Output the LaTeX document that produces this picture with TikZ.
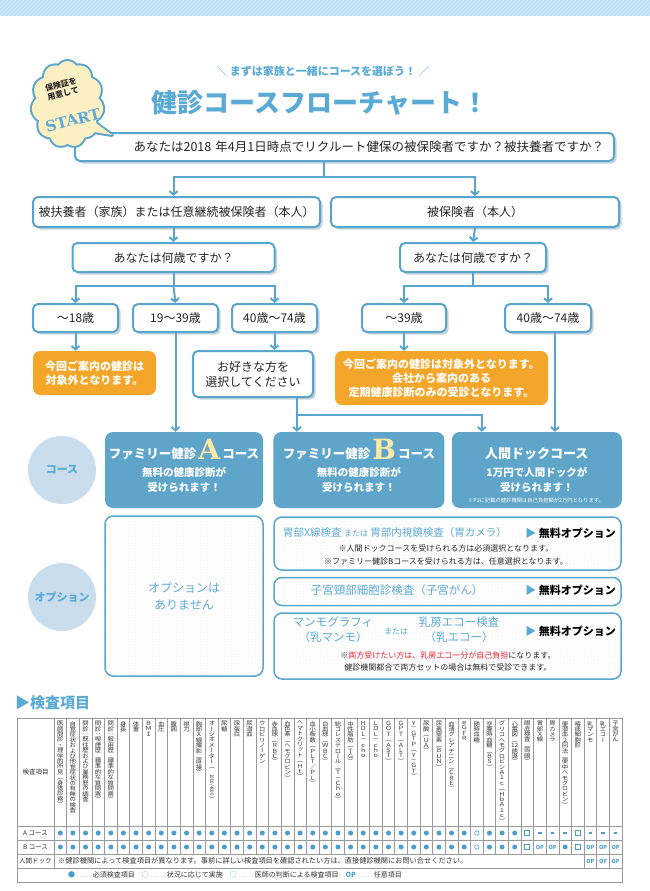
\documentclass[tikz,border=0pt]{standalone}
\usepackage{fontspec}
\setmainfont{Noto Sans CJK JP}
\newfontfamily\tatefont[RawFeature=+vert]{Noto Sans CJK JP}
\newfontfamily\serifbig{DejaVu Serif}
\usepackage{xcolor}
\usepackage{tikz}
\usetikzlibrary{shapes.symbols, arrows.meta, positioning, shadows, patterns}

\definecolor{lineblue}{HTML}{5AA5CE}
\definecolor{courseblue}{HTML}{5FA5CA}
\definecolor{circblue}{HTML}{C9DDEC}
\definecolor{ngorange}{HTML}{F4A62A}
\definecolor{titleblue}{HTML}{5BAAD6}
\definecolor{aletter}{HTML}{FDE9A5}
\definecolor{cloudfill}{HTML}{FCEFC2}
\definecolor{stripe}{HTML}{BCDEF3}
\definecolor{shadowc}{HTML}{C5D3DC}
\definecolor{markblue}{HTML}{4C9DCB}
\definecolor{redtxt}{HTML}{E8202F}
\definecolor{gridgray}{HTML}{9A9A9A}

\tikzstyle{qbox} = [rectangle, rounded corners=5pt, draw=lineblue, line width=2pt, fill=white, drop shadow={shadow xshift=2.5pt, shadow yshift=-2.5pt, fill=shadowc, opacity=1}, inner sep=0pt, align=center, text=black!85, font=\fontsize{12}{15}\selectfont]
\tikzstyle{agebox} = [qbox, minimum width=85pt, minimum height=28pt]
\tikzstyle{ngbox} = [rectangle, rounded corners=7pt, fill=ngorange, text=white, inner sep=0pt, align=center, font=\bfseries\fontsize{11}{14}\selectfont]
\tikzstyle{course} = [rectangle, rounded corners=8pt, fill=courseblue, text=white, inner sep=0pt, align=center, minimum height=76pt, font=\bfseries\fontsize{10.5}{15}\selectfont]
\tikzstyle{tag} = [circle, fill=circblue, minimum size=68pt, inner sep=0pt, text=titleblue, font=\bfseries\fontsize{11}{13}\selectfont]
\tikzstyle{optbox} = [rectangle, rounded corners=8pt, draw=lineblue, line width=1.5pt, pattern=dots, pattern color=black!12, inner sep=0pt, minimum width=347pt]
\tikzstyle{arrow} = [-{Straight Barb[length=3.5pt, width=8pt]}, line width=2pt, draw=lineblue]
\tikzstyle{link} = [line width=2pt, draw=lineblue]
\tikzstyle{optitem} = [inner sep=0pt, text=titleblue, font=\fontsize{11.5}{15}\selectfont, align=center]
\tikzstyle{freeopt} = [anchor=east, inner sep=0pt, text=black, font=\bfseries\fontsize{11}{13}\selectfont]
\tikzstyle{optnote} = [inner sep=0pt, text=black!85, font=\fontsize{8}{12}\selectfont, align=center]
\tikzstyle{grid} = [draw=gridgray, line width=0.6pt]
\tikzstyle{colhead} = [anchor=north, inner sep=0pt, text=black!80, font=\tatefont\fontsize{6.4}{6}\selectfont]
\tikzstyle{rowhead} = [inner sep=0pt, text=black!80, font=\fontsize{6.5}{8}\selectfont]
\tikzstyle{dotmark} = [circle, fill=markblue, inner sep=0pt, minimum size=5pt]
\tikzstyle{ringmark} = [circle, draw=markblue, line width=0.6pt, inner sep=0pt, minimum size=4.5pt]
\tikzstyle{boxmark} = [rectangle, draw=markblue, line width=1.2pt, inner sep=0pt, minimum size=5pt]
\tikzstyle{dashmark} = [rectangle, fill=markblue, inner sep=0pt, minimum width=3.5pt, minimum height=1.2pt]
\tikzstyle{opmark} = [inner sep=0pt, text=markblue, font=\bfseries\fontsize{5.5}{6}\selectfont]
\tikzstyle{startcl} = [cloud, cloud puffs=11, cloud puff arc=115, cloud ignores aspect, minimum width=72pt, minimum height=86pt, inner sep=0pt]

\newcommand\bigletter[1]{\smash{\raisebox{-1pt}{\serifbig\bfseries\fontsize{28}{28}\selectfont\color{aletter}#1}}}

\ExplSyntaxOn
\NewDocumentCommand \tate { m }
  {
    \scalebox{1}[0.9]{
      \vtop{
        \baselineskip = 6pt \lineskiplimit = -\c_max_dim
        \tl_map_inline:nn {#1} { \hbox_to_wd:nn {10pt} { \hss ##1 \hss } }
      }
    }
  }
\ExplSyntaxOff

\begin{document}
\begin{tikzpicture}[x=1pt, y=-1pt]
    \useasboundingbox (0,0) rectangle (650,891);

    % === top band ===
    \begin{scope}
        \clip (0,0) rectangle (650,16);
        \fill[stripe] (0,0) rectangle (650,16);
        \foreach \x in {-20,-16,...,650} \draw[white, opacity=0.3, line width=1.2pt] (\x,16) -- ++(16,-16);
    \end{scope}

    % === headings ===
    \node[text=titleblue, font=\bfseries\fontsize{11}{13}\selectfont] (subtitle) at (323,71) {{\mdseries ＼}\ まずは家族と一緒にコースを選ぼう！\ {\mdseries ／}};
    \node[text=titleblue, font=\bfseries\fontsize{26}{30}\selectfont] (title) at (320,103) {健診コースフローチャート！};

    % === ROW 1: first question ===
    \node[qbox, minimum width=539pt, minimum height=28pt, text width=519pt, align=right, font=\fontsize{12.5}{15}\selectfont] (q1) at (344.5,147) {あなたは2018 年4月1日時点でリクルート健保の被保険者ですか？被扶養者ですか？};

    % === START cloud (over the corner of q1) ===
    \node[startcl, draw=lineblue, line width=4pt] (startcloud) at (67.5,104) {};
    \draw[lineblue, line width=4pt, line join=round] (82,130) -- (112,135) -- (93,121) -- cycle;
    \node[startcl, fill=cloudfill] at (67.5,104) {};
    \fill[cloudfill] (82,130) -- (112,135) -- (93,121) -- cycle;
    \node[rotate=14, font=\bfseries\fontsize{8}{9.5}\selectfont, align=center, text=black!85, inner sep=0pt] (startnote) at (62,89) {保険証を\\用意して};
    \node[rotate=14, font=\serifbig\bfseries\fontsize{15}{15}\selectfont, text=titleblue, inner sep=0pt] (starttxt) at (73,120) {START};

    % === ROW 2: insured or dependant ===
    \node[qbox, minimum width=287pt, minimum height=30pt] (l1) at (176.5,212) {被扶養者（家族）または任意継続被保険者（本人）};
    \node[qbox, minimum width=288pt, minimum height=30pt, right=9pt of l1] (r1) {被保険者（本人）};

    % === ROW 3: age questions ===
    \node[qbox, minimum width=202pt, minimum height=29pt] (q2l) at (173.5,257.5) {あなたは何歳ですか？};
    \node[qbox, minimum width=146pt, minimum height=29pt] (q2r) at (473,257.5) {あなたは何歳ですか？};

    % === ROW 4: age ranges ===
    \node[agebox] (a18) at (75.5,318) {〜18歳};
    \node[agebox, right=13pt of a18] (a19) {19〜39歳};
    \node[agebox, right=12pt of a19] (a40l) {40歳〜74歳};
    \node[agebox, minimum width=84pt] (b39) at (404,318) {〜39歳};
    \node[agebox, minimum width=86pt] (b40) at (548,318) {40歳〜74歳};

    % === ROW 5: results ===
    \node[ngbox, minimum width=123pt, minimum height=44pt] (ng1) at (94.5,373) {今回ご案内の健診は\\対象外となります。};
    \node[qbox, minimum width=120pt, minimum height=46pt] (pick) at (253,374) {お好きな方を\\選択してください};
    \node[ngbox, minimum width=213pt, minimum height=54pt] (ng2) at (441.5,378) {今回ご案内の健診は対象外となります。\\会社から案内のある\\定期健康診断のみの受診となります。};

    % === ROW 6: courses ===
    \node[tag] (tagcourse) at (62,470) {コース};
    \node[course, minimum width=158pt] (cA) at (184,470) {{\fontsize{12.5}{15}\selectfont ファミリー健診\,\bigletter{A}\,コース}\\[3pt]無料の健康診断が\\受けられます！};
    \node[course, minimum width=171pt, right=10pt of cA] (cB) {{\fontsize{12.5}{15}\selectfont ファミリー健診\,\bigletter{B}\,コース}\\[3pt]無料の健康診断が\\受けられます！};
    \node[course, minimum width=170pt, right=7pt of cB] (cD) {{\fontsize{13}{15}\selectfont 人間ドックコース}\\[3pt]1万円で人間ドックが\\受けられます！};
    \node[inner sep=0pt, text=white, font=\fontsize{5.3}{6}\selectfont] (dnote) at (536,500) {※P3に記載の健診機関は自己負担額が2万円となります。};

    % === ROW 7: options ===
    \node[tag] (tagopt) at (62,597) {オプション};
    \node[optbox, minimum width=158pt, minimum height=160pt, text=titleblue, align=center, font=\fontsize{12}{17}\selectfont] (optnone) at (184,596) {オプションは\\ありません};
    \node[optbox, minimum height=53pt] (opt1) at (447.5,543.5) {};
    \node[optbox, minimum height=28pt, below=6pt of opt1] (opt2) {};
    \node[optbox, minimum height=66pt, below=6pt of opt2] (opt3) {};

    \node[optitem, anchor=west, font=\fontsize{10.5}{13}\selectfont] (xray) at (283,533) {胃部X線検査\ {\fontsize{8}{8}\selectfont または}\ 胃部内視鏡検査（胃カメラ）};
    \node[freeopt] (free1) at (616,533) {{\color{titleblue}▶}\ 無料オプション};
    \node[optnote] (note1) at (446,548) {※人間ドックコースを受けられる方は必須選択となります。};
    \node[optnote] (note2) at (446,561) {※ファミリー健診Bコースを受けられる方は、任意選択となります。};

    \node[optitem] (uterus) at (397,590) {子宮頸部細胞診検査（子宮がん）};
    \node[freeopt] (free2) at (616,590) {{\color{titleblue}▶}\ 無料オプション};

    \node[optitem] (mammo) at (333,630) {マンモグラフィ\\（乳マンモ）};
    \node[optitem, font=\fontsize{8}{8}\selectfont] (either) at (396,631) {または};
    \node[optitem] (echo) at (459,630) {乳房エコー検査\\（乳エコー）};
    \node[freeopt] (free3) at (616,631) {{\color{titleblue}▶}\ 無料オプション};
    \node[optnote] (note3) at (448,655) {※{\color{redtxt}両方受けたい方は、乳房エコー分が自己負担}になります。};
    \node[optnote] (note4) at (448,667) {健診機関都合で両方セットの場合は無料で受診できます。};

    % ===== ARROWS =====
    % first question -> insured / dependant
    \coordinate (j1) at (324,177);
    \draw[link] (q1.south -| j1) -- (j1);
    \draw[arrow] (j1) -| (q2l.north |- l1.north);
    \draw[arrow] (j1) -| (r1.north);

    % -> age questions
    \draw[arrow] (q2l.north |- l1.south) -- (q2l.north);
    \draw[arrow] (r1.south) -- (q2r.north);

    % age questions -> age ranges
    \draw[link] (q2l.south) -- ++(0,13) coordinate (j2);
    \draw[arrow] (j2) -| (a18.north);
    \draw[arrow] (j2) -- (a19.north);
    \draw[arrow] (j2) -| (a40l.north);
    \draw[link] (q2r.south) -- ++(0,13) coordinate (j3);
    \draw[arrow] (j3) -| (b39.north);
    \draw[arrow] (j3) -| (b40.north);

    % age ranges -> results
    \draw[arrow] (a18.south) -- (a18.south |- ng1.north);
    \draw[arrow] (a40l.south) -- (a40l.south |- pick.north);
    \draw[arrow] (b39.south) -- (b39.south |- ng2.north);

    % -> courses
    \draw[arrow] (a19.south) -- (a19.south |- cA.north);
    \coordinate (j4) at (297,415);
    \coordinate (cDin) at ([xshift=-55pt]cD.north);
    \draw[link] (pick.south -| j4) -- (j4);
    \draw[arrow] (j4) -- (j4 |- cB.north);
    \draw[arrow] (j4) -| (cDin);
    \coordinate (b40out) at ([xshift=7pt]b40.south);
    \draw[arrow] (b40out) -- (b40out |- cD.north);

    % ===== TABLE =====
    \node[anchor=west, inner sep=0pt, text=titleblue, font=\bfseries\fontsize{15}{18}\selectfont] (tablehead) at (15,703) {▶検査項目};
    \draw[grid] (17,718) rectangle (622,882);
    \foreach \y in {826,840,854,868} \draw[grid] (17,\y) -- (622,\y);
    \draw[grid] (54,718) -- (54,868);
    \foreach \i in {1,...,44} \draw[grid] ({54+\i*12.622},718) -- ({54+\i*12.622},854);
    \foreach \i in {42,43,44} \draw[grid] ({54+\i*12.622},854) -- ++(0,14);

    \node[rowhead] (itemhead) at (35.5,772) {検査項目};
    \node[rowhead] (rowa) at (35.5,833) {A コース};
    \node[rowhead] (rowb) at (35.5,847) {B コース};
    \node[rowhead] (rowd) at (35.5,861) {人間ドック};

    \foreach \h [count=\i] in {医師問診・理学的所見（身体診察）, 自覚症状および他覚症状の有無の検査, 問診：既往歴および業務歴の調査, 問診：喫煙歴（標準的な質問票）, 問診：服用歴（標準的な質問票）, 身長, 体重, ＢＭＩ, 血圧, 腹囲, 視力, 胸部Ｘ線撮影（直接）, オージオメーター（{\rotatebox{-90}{\fontsize{5}{5}\selectfont 1000/4000}}{}{}{}{}）, 尿糖, 尿蛋白, 尿潜血, ウロビリノーゲン, 赤血球（ＲＢＣ）, 血色素（ヘモグロビン）, ヘマトクリット（Ｈｔ）, 血小板数（ＰＬＴ／ＰＬ）, 白血球（ＷＢＣ）, 総コレステロール（Ｔ－Ｃｈｏ）, 中性脂肪（ＴＧ）, ＨＤＬ－ｃｈｏ, ＬＤＬ－ｃｈｏ, ＧＯＴ（ＡＳＴ）, ＧＰＴ（ＡＬＴ）, γ－ＧＴＰ（γ－ＧＴ）, 尿酸（ＵＡ）, 尿素窒素（ＢＵＮ）, 血清クレアチニン（ＣＲＥ）, ｅＧＦＲ, 随時血糖, 空腹時血糖（ＢＳ）, グリコヘモグロビンＡ１ｃ（ＨｂＡ１ｃ）, 心電図（{12}誘導）, 眼底検査（両眼）, 胃部Ｘ線, 胃カメラ, 便潜血２回法（便中ヘモグロビン）, 喀痰細胞診, 乳マンモ, 乳エコー, 子宮がん}
        \node[colhead] (h\i) at ({54+(\i-0.5)*12.622},721) {\expandafter\tate\expandafter{\h}};

    % marks: A and B courses
    \foreach \i in {1,...,33} {
        \node[dotmark] (a\i) at ({54+(\i-0.5)*12.622},833) {};
        \node[dotmark] (b\i) at ({54+(\i-0.5)*12.622},847) {};
    }
    \foreach \i in {35,36,37} {
        \node[dotmark] (a\i) at ({54+(\i-0.5)*12.622},833) {};
        \node[dotmark] (b\i) at ({54+(\i-0.5)*12.622},847) {};
    }
    \node[dotmark] (b41) at ({54+40.5*12.622},847) {};
    \foreach \r/\y in {a/833, b/847} {
        \node[ringmark] (\r34) at ({54+33.5*12.622},\y) {};
        \node[boxmark] (\r38) at ({54+37.5*12.622},\y) {};
        \node[boxmark] (\r42) at ({54+41.5*12.622},\y) {};
    }
    \foreach \i in {39,40,41,43,44,45} \node[dashmark] (a\i) at ({54+(\i-0.5)*12.622},833) {};
    \foreach \i in {39,40,43,44,45} \node[opmark] (b\i) at ({54+(\i-0.5)*12.622},847) {OP};
    \foreach \i in {43,44,45} \node[opmark] (d\i) at ({54+(\i-0.5)*12.622},861) {OP};

    \node[rowhead, anchor=west, font=\fontsize{7.2}{8}\selectfont] (docknote) at (58,861) {※健診機関によって検査項目が異なります。事前に詳しい検査項目を確認されたい方は、直接健診機関にお問い合せください。};
    \node[rowhead, font=\fontsize{7}{8}\selectfont] (legend) at (235,875) {{\color{markblue}●}\ {\color{gray!70}……}\ 必須検査項目\quad {\color{markblue}○}\ {\color{gray!70}……}\ 状況に応じて実施\quad {\color{markblue}□}\ {\color{gray!70}……}\ 医師の判断による検査項目\quad {\color{markblue}\bfseries OP}\ {\color{gray!70}……}\ 任意項目};
\end{tikzpicture}
\end{document}
